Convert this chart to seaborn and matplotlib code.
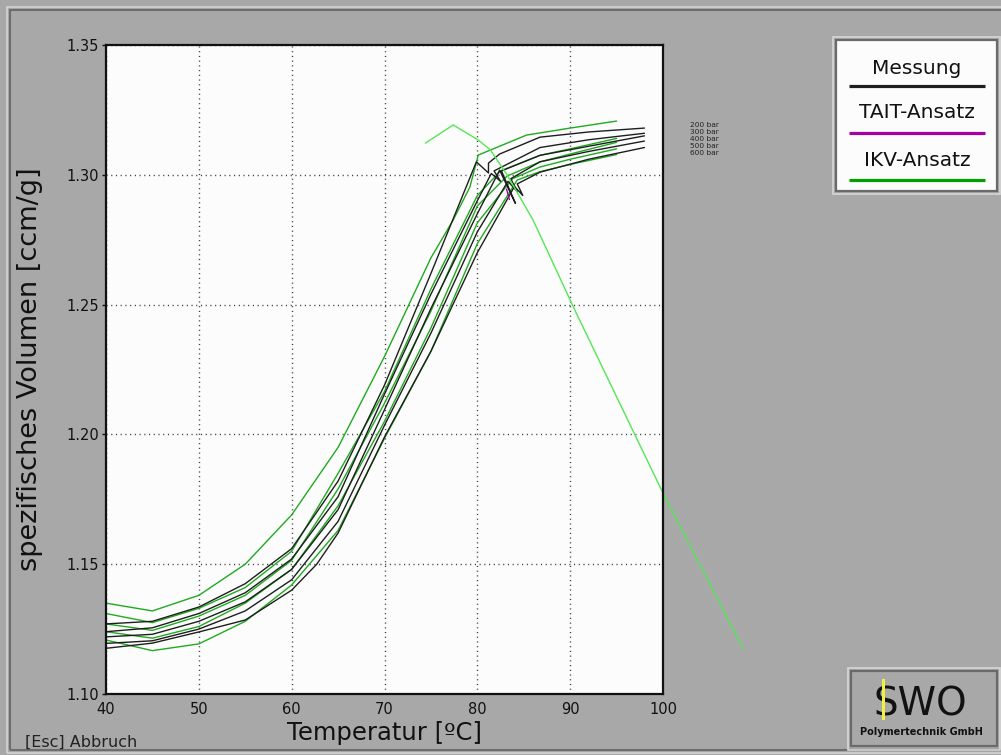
import matplotlib
matplotlib.use("Agg")
import matplotlib.pyplot as plt
from matplotlib.patches import Rectangle
from matplotlib.lines import Line2D
import pandas as pd
import seaborn as sns

# ---------------------------------------------------------------- data
# Messung: measured isobars (temperature in degC, specific volume in ccm/g)
pressure_labels = ["200 bar", "300 bar", "400 bar", "500 bar", "600 bar"]

t_mess_200 = [40, 45, 50, 55, 60, 65, 70, 75, 79.9, 81.2, 81.2, 82.4, 86.75, 92, 98]
v_mess_200 = [1.127, 1.128, 1.1335, 1.1425, 1.156, 1.182, 1.219, 1.262, 1.305,
              1.3007, 1.3045, 1.308, 1.3145, 1.3165, 1.318]

t_mess_300 = [40, 45, 50, 55, 60, 65, 70, 75, 80, 81.5, 82.5, 81.8, 86.75, 92, 98]
v_mess_300 = [1.124, 1.1255, 1.131, 1.139, 1.152, 1.176, 1.2155, 1.254, 1.290,
              1.3005, 1.2975, 1.3015, 1.3105, 1.3135, 1.316]

t_mess_400 = [40, 45, 50, 55, 60, 65, 70, 75, 80, 82.4, 84.1, 82.6, 86.75, 92, 98]
v_mess_400 = [1.122, 1.123, 1.128, 1.1355, 1.148, 1.171, 1.2095, 1.2485, 1.285,
              1.3018, 1.289, 1.3015, 1.3075, 1.311, 1.315]

t_mess_500 = [40, 45, 50, 55, 60, 65, 70, 75, 80, 83.3, 84.3, 83.6, 86.75, 92, 98]
v_mess_500 = [1.1195, 1.1205, 1.125, 1.132, 1.144, 1.1665, 1.2035, 1.239, 1.278,
              1.2975, 1.2935, 1.2985, 1.305, 1.309, 1.313]

t_mess_600 = [40, 45, 50, 55, 60, 62.7, 65, 70, 75, 80, 84.0, 84.9, 84.3, 86.75, 92, 98]
v_mess_600 = [1.1176, 1.1196, 1.1239, 1.1285, 1.140, 1.150, 1.162, 1.199, 1.232,
              1.270, 1.2955, 1.292, 1.2965, 1.301, 1.306, 1.3105]

# IKV-Ansatz: fitted isobars
t_ikv_200 = [40, 45, 50, 55, 60, 65, 70, 75, 77.4, 79.2, 80.1, 85.3, 90, 95]
v_ikv_200 = [1.135, 1.132, 1.138, 1.150, 1.169, 1.195, 1.230, 1.268, 1.2826,
             1.2953, 1.3076, 1.3153, 1.318, 1.3207]

t_ikv_300 = [40, 45, 50, 55, 60, 65, 70, 75, 80, 82.5, 86.75, 90, 95]
v_ikv_300 = [1.131, 1.1275, 1.133, 1.141, 1.155, 1.185, 1.2165, 1.256, 1.292,
             1.3015, 1.3075, 1.310, 1.314]

t_ikv_400 = [40, 45, 50, 55, 60, 65, 70, 75, 80, 83.2, 86.75, 90, 95]
v_ikv_400 = [1.127, 1.1245, 1.130, 1.138, 1.1515, 1.179, 1.212, 1.2475, 1.288,
             1.2995, 1.305, 1.308, 1.3125]

t_ikv_500 = [40, 45, 50, 55, 60, 65, 70, 75, 80, 83.8, 86.75, 90, 95]
v_ikv_500 = [1.124, 1.1215, 1.126, 1.135, 1.148, 1.1725, 1.205, 1.241, 1.2815,
             1.2985, 1.303, 1.306, 1.310]

t_ikv_600 = [40, 45, 50, 55, 60, 65, 70, 75, 80, 84.3, 86.75, 90, 95]
v_ikv_600 = [1.1208, 1.1167, 1.1193, 1.128, 1.142, 1.163, 1.1985, 1.232, 1.2735,
             1.298, 1.3012, 1.304, 1.3078]

# IKV-Ansatz: extra branch running past the right edge of the plot
t_ikv_branch = [74.4, 77.4, 80.1, 81.4, 83.2, 86.0, 90.5, 100, 108.6]
v_ikv_branch = [1.3122, 1.3192, 1.3134, 1.3096, 1.300, 1.2826, 1.2479, 1.1774, 1.1177]

# TAIT-Ansatz: only a short visible piece
t_tait = [83.15, 83.45]
v_tait = [1.2945, 1.2905]

x_ticks = [40, 50, 60, 70, 80, 90, 100]
y_ticks = [1.10, 1.15, 1.20, 1.25, 1.30, 1.35]

legend_labels = ["Messung", "TAIT-Ansatz", "IKV-Ansatz"]

# ---------------------------------------------------------------- style
sns.set_style("white")
plt.rcParams["font.family"] = ["DejaVu Sans"]

BG = "#a8a8a8"
BLACK = "#1e1e1e"
GREEN = "#20aa20"
LIGHT_GREEN = "#55e655"
MAGENTA = "#a400a4"
W, H = 1001, 755

fig = plt.figure(figsize=(W / 100, H / 100), dpi=100)
fig.patch.set_facecolor(BG)

ax = fig.add_axes([106 / W, 1 - 694 / H, (663 - 106) / W, (694 - 45) / H])
ax.set_facecolor("#fcfcfc")


def px_rect(x0, y0, x1, y1, **kw):
    """Rectangle given in figure pixel coordinates (origin top-left)."""
    r = Rectangle((x0 / W, 1 - y1 / H), (x1 - x0) / W, (y1 - y0) / H,
                  transform=fig.transFigure, **kw)
    fig.add_artist(r)
    return r


def px_line(x0, y0, x1, y1, **kw):
    ln = Line2D([x0 / W, x1 / W], [1 - y0 / H, 1 - y1 / H],
                transform=fig.transFigure, **kw)
    fig.add_artist(ln)
    return ln


# outer window frame
px_rect(7, 7, 1010, 753, fill=False, edgecolor="#d4d4d4", linewidth=1.2)
px_rect(10, 10, 1010, 750, fill=False, edgecolor="#6e6e6e", linewidth=1.5)


def draw(t, v, color, lw=1.0, z=3):
    df = pd.DataFrame({"T": t, "v": v})
    sns.lineplot(data=df, x="T", y="v", sort=False, estimator=None,
                 color=color, linewidth=lw, ax=ax, zorder=z)
    return ax.lines[-1]


ikv_curves = [(t_ikv_200, v_ikv_200), (t_ikv_300, v_ikv_300), (t_ikv_400, v_ikv_400),
              (t_ikv_500, v_ikv_500), (t_ikv_600, v_ikv_600)]
mess_curves = [(t_mess_200, v_mess_200), (t_mess_300, v_mess_300), (t_mess_400, v_mess_400),
               (t_mess_500, v_mess_500), (t_mess_600, v_mess_600)]

for t, v in ikv_curves:
    draw(t, v, GREEN, 1.0, 3)
for t, v in mess_curves:
    draw(t, v, BLACK, 1.0, 4)
draw(t_tait, v_tait, MAGENTA, 1.0, 5)
branch = draw(t_ikv_branch, v_ikv_branch, LIGHT_GREEN, 1.0, 5)
branch.set_clip_on(False)

# pressure labels beside the ends of the measured isobars, stacked top to bottom
for i, lab in enumerate(pressure_labels):
    fig.text(690 / W, 1 - (125 + 7 * i) / H, lab, fontsize=5.3, color="#222222",
             ha="left", va="center")

# axes
ax.set_xlim(40, 100)
ax.set_ylim(1.10, 1.35)
ax.set_xticks(x_ticks)
ax.set_xticklabels([str(x) for x in x_ticks])
ax.set_yticks(y_ticks)
ax.set_yticklabels([f"{y:.2f}" for y in y_ticks])
ax.tick_params(axis="x", length=0, pad=6, labelsize=10.5, colors="#111111")
ax.tick_params(axis="y", length=3, width=1, pad=2, labelsize=10.5,
               colors="#111111", left=True)
ax.grid(True, color="#3a3a3a", linestyle=(0, (0.8, 2.6)), linewidth=1.0)
ax.set_axisbelow(True)
for sp in ax.spines.values():
    sp.set_color("#111111")
    sp.set_linewidth(1.6)
    sp.set_zorder(6)

ax.set_xlabel("Temperatur [ºC]", fontsize=17.5, color="#111111")
ax.xaxis.set_label_coords(0.5, (694 - 733) / 649)
ax.xaxis.label.set_va("center")
ax.set_ylabel("spezifisches Volumen [ccm/g]", fontsize=19.5, color="#111111")
ax.yaxis.set_label_coords((30 - 106) / 557, 0.5)
ax.yaxis.label.set_va("center")

fig.text(25 / W, 1 - 742 / H, "[Esc] Abbruch", fontsize=11.5, color="#222222",
         ha="left", va="center")

# legend box
px_rect(833, 37, 1000, 194, facecolor="none", edgecolor="#d8d8d8", linewidth=1.2)
px_rect(836, 40, 997, 191, facecolor="#fcfcfc", edgecolor="#6a6a6a", linewidth=1.6)
legend_colors = [BLACK, MAGENTA, "#00a000"]
legend_text_y = [68, 113, 160]
legend_line_y = [86, 133, 180]
for lab, col, ty, ly in zip(legend_labels, legend_colors, legend_text_y, legend_line_y):
    fig.text(917 / W, 1 - ty / H, lab, fontsize=14.5, color="#111111",
             ha="center", va="center")
    px_line(849, ly, 985, ly, color=col, linewidth=2.3, solid_capstyle="butt")

# company logo
px_rect(848, 668, 1000, 750, facecolor="none", edgecolor="#d8d8d8", linewidth=1.2)
px_rect(851, 671, 997, 746, facecolor=BG, edgecolor="#6a6a6a", linewidth=1.6)
fig.text(920 / W, 1 - 704 / H, "SWO", fontsize=28, color="#111111",
         ha="center", va="center")
px_rect(881.5, 679, 885, 720, facecolor="#f2f040", edgecolor="none", zorder=10)
fig.text(921 / W, 1 - 732 / H, "Polymertechnik GmbH", fontsize=7, fontweight="bold",
         color="#111111", ha="center", va="center")

fig.savefig("out.png", dpi=100, facecolor=BG)
